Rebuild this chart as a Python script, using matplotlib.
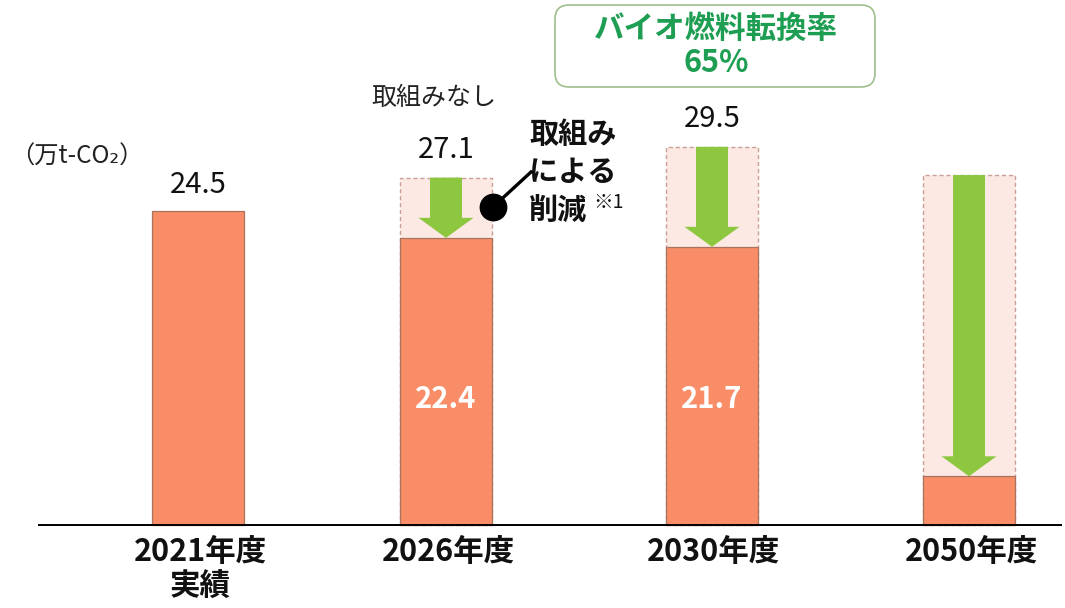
import matplotlib
matplotlib.use('Agg')
import matplotlib.pyplot as plt
from matplotlib.patches import FancyArrow, FancyBboxPatch

plt.rcParams['font.family'] = ['Noto Sans CJK JP', 'DejaVu Sans']

# ---- data ----
categories = ['2021年度\n実績', '2026年度', '2030年度', '2050年度']
emissions = [24.5, 22.4, 21.7, 3.8]          # with measures (万t-CO2)
without_measures = [None, 27.1, 29.5, 27.3]   # without measures (万t-CO2)
emission_labels = ['24.5', '22.4', '21.7', '']
without_labels = ['', '27.1', '29.5', '']
unit_label = '（万t-CO₂）'
no_action_label = '取組みなし'
reduction_lines = ['取組み', 'による', '削減']
note_mark = '※1'
bio_label = 'バイオ燃料転換率\n65%'

# ---- layout ----
W, H = 1065, 608
K = 12.82          # px per unit
BASE = 525         # baseline pixel row (from top)
xpos = [198, 446, 712, 969]
bw = 92

BAR = '#F98D68'
BAR_EDGE = '#A8735F'
GHOST = '#FCE9E3'
GHOST_EDGE = '#C9A096'
ARROW = '#8DC73F'
GREEN_TXT = '#1E9E52'

fig = plt.figure(figsize=(W / 100, H / 100), dpi=100)
ax = fig.add_axes([0, 0, 1, 1])
ax.set_xlim(0, W)
ax.set_ylim(-(H - BASE) / K, BASE / K)
ax.axis('off')

ov = fig.add_axes([0, 0, 1, 1], zorder=5)
ov.set_xlim(0, W)
ov.set_ylim(H, 0)
ov.axis('off')
ov.patch.set_alpha(0)

# ghost boxes (without measures)
for x, v in zip(xpos, without_measures):
    if v is None:
        continue
    ax.bar(x, v, width=bw, color=GHOST, edgecolor=GHOST_EDGE,
           linestyle=(0, (3, 2)), linewidth=1.0, zorder=1)

# actual bars
ax.bar(xpos, emissions, width=bw, color=BAR, edgecolor=BAR_EDGE,
       linewidth=0.9, zorder=2)

# arrows
for x, v, e in zip(xpos, without_measures, emissions):
    if v is None:
        continue
    ax.add_patch(FancyArrow(x, v, 0, -(v - e), width=32, head_width=55,
                            head_length=20 / K, length_includes_head=True,
                            color=ARROW, lw=0, zorder=3))

# baseline axis line
ax.plot([38, 1062], [0, 0], color='black', lw=1.4, zorder=4,
        solid_capstyle='butt')

# value labels
for x, e, v, el, vl in zip(xpos, emissions, without_measures,
                           emission_labels, without_labels):
    if v is None and el:
        ax.annotate(el, (x, e), xytext=(0, 19), textcoords='offset points',
                    ha='center', va='center', fontsize=21, color='#111111')
    if vl:
        ax.annotate(vl, (x, v), xytext=(0, 20), textcoords='offset points',
                    ha='center', va='center', fontsize=21, color='#111111')
    if v is not None and el:
        ov.text(x, 399, el, ha='center', va='center', fontsize=21,
                fontweight='bold', color='white')

# category labels
for x, c in zip(xpos, categories):
    ov.text(x + 2, 536, c, ha='center', va='top', fontsize=22,
            fontweight='bold', color='#111111', linespacing=1.1)

# unit label
ov.text(10, 157, unit_label, ha='left', va='center', fontsize=17.5,
        color='#222222')

# without-measures label
ov.text(434, 98, no_action_label, ha='center', va='center', fontsize=18,
        color='#222222')

# reduction annotation
for i, line in enumerate(reduction_lines):
    ov.text(529, 134 + 38 * i, line, ha='left', va='center', fontsize=21,
            fontweight='bold', color='#111111')
ov.text(593, 203, note_mark, ha='left', va='center', fontsize=14,
        color='#111111')
ov.plot([493, 531], [207, 172], color='black', lw=2.4, zorder=6)
ov.plot([493], [207], 'o', ms=19, color='black', zorder=7)

# bio fuel box
ov.add_patch(FancyBboxPatch((555, 5), 320, 82,
                            boxstyle='round,pad=0,rounding_size=14',
                            fc='white', ec='#9FBF8C', lw=1.2, zorder=6))
ov.text(716, 46, bio_label, ha='center', va='center', fontsize=22,
        fontweight='bold', color=GREEN_TXT, linespacing=1.1, zorder=7)

fig.savefig('out.png', dpi=100)
